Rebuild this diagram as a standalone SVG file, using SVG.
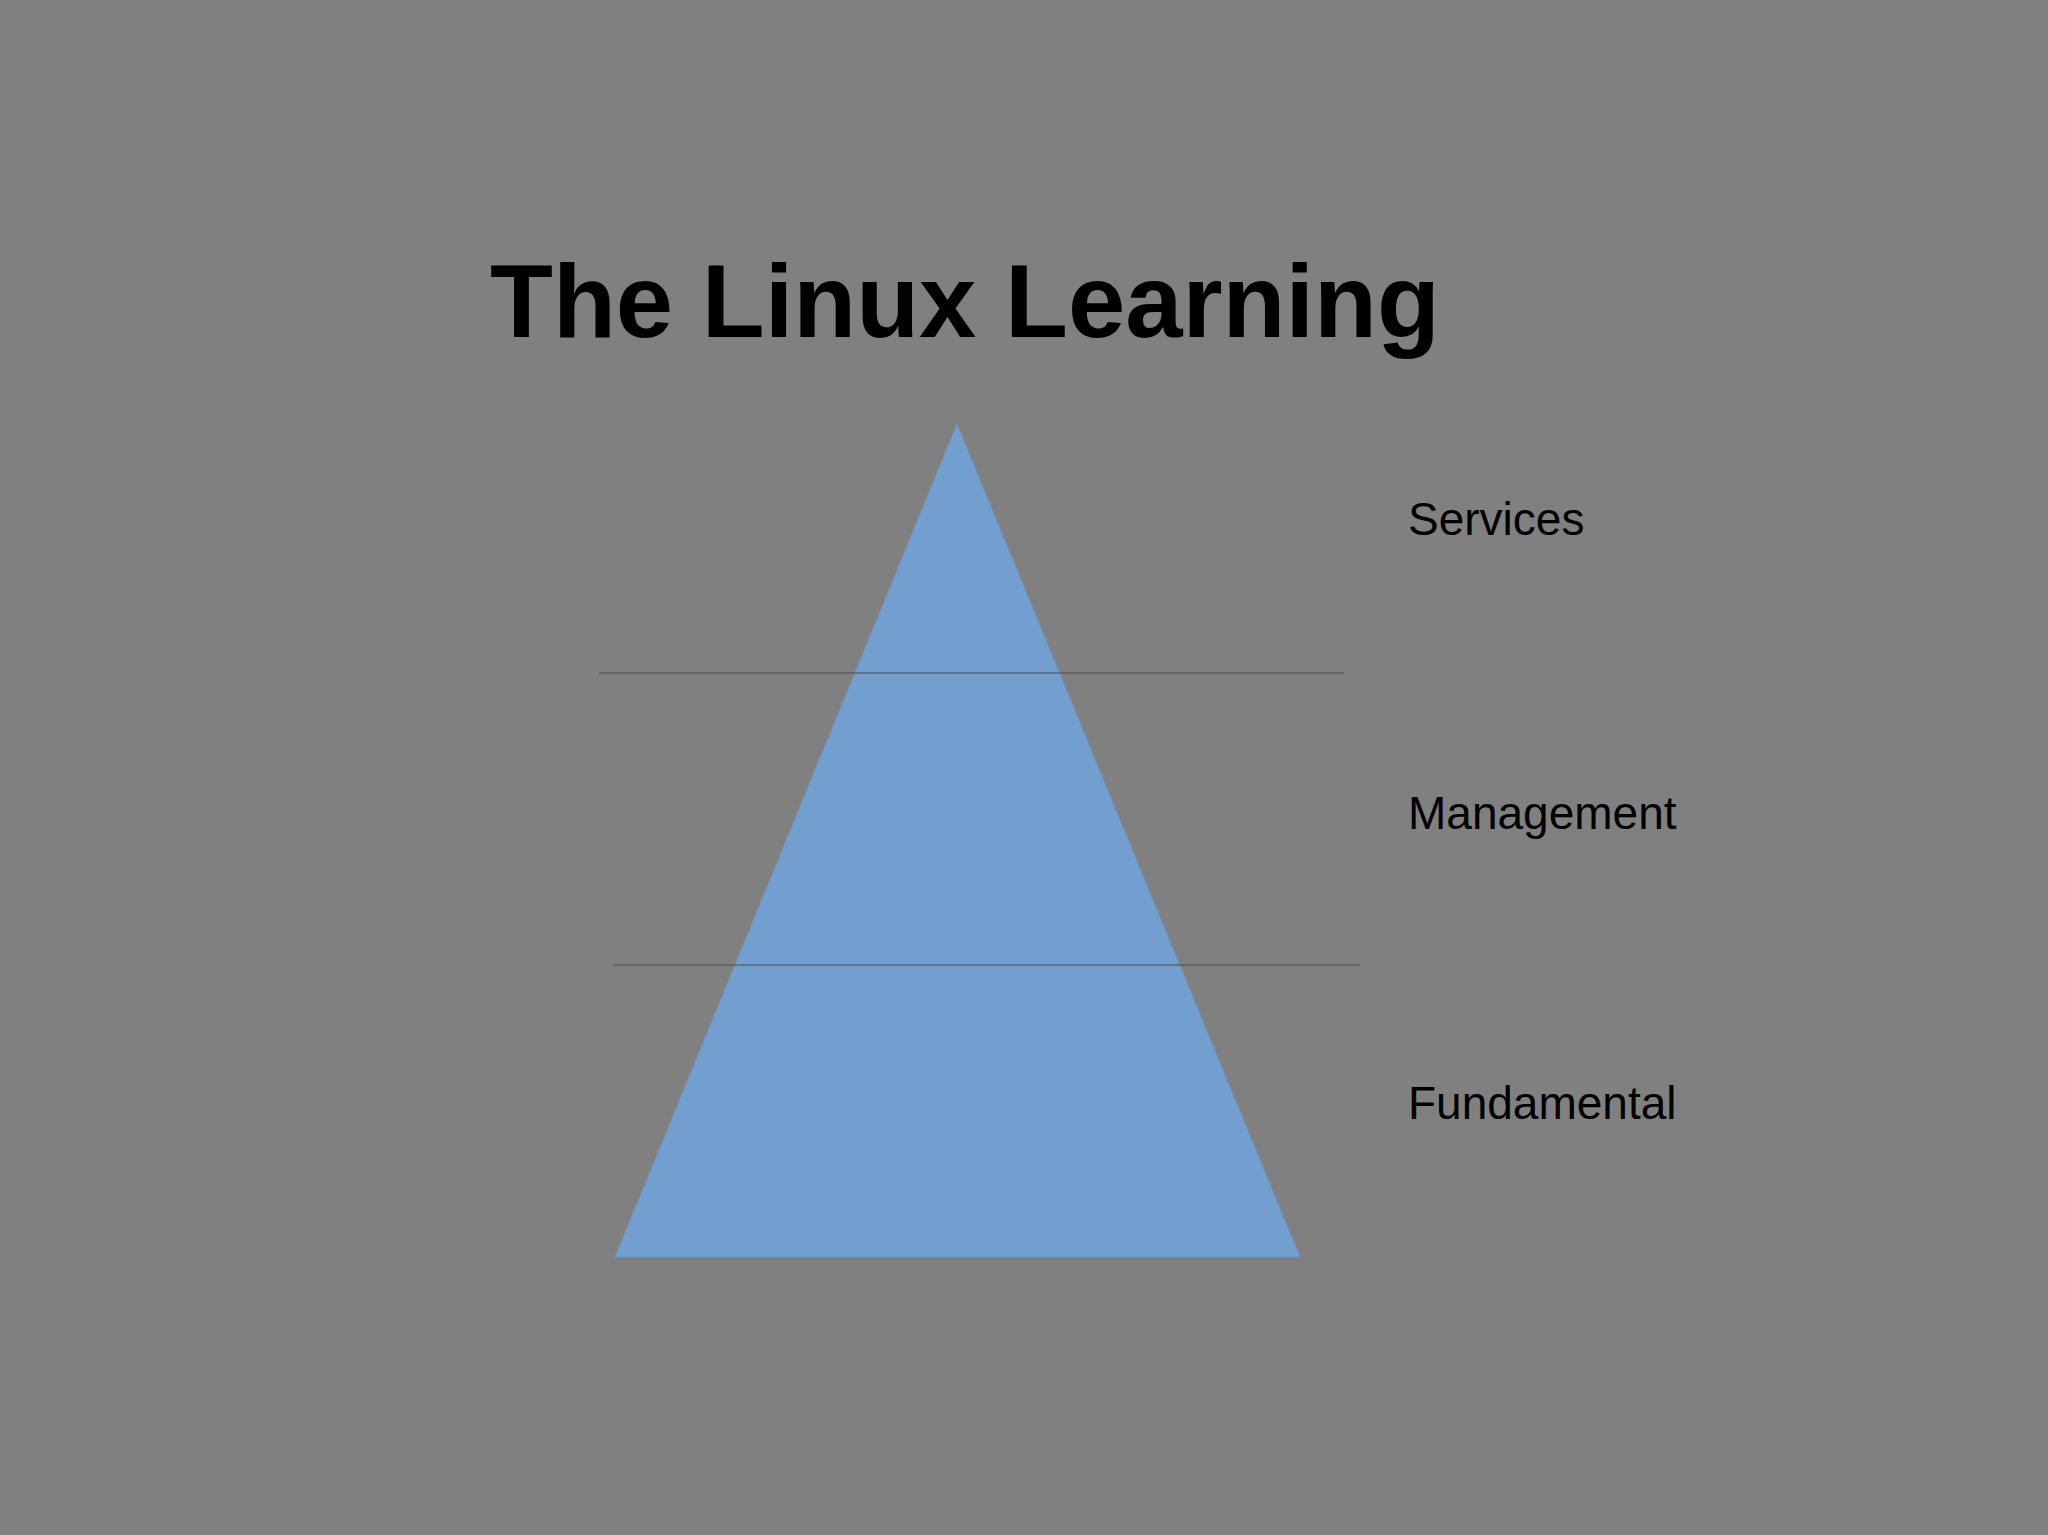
<svg xmlns="http://www.w3.org/2000/svg" width="2048" height="1535" viewBox="0 0 2048 1535">
<style>
.lbl{font-family:"Liberation Sans",Arial,sans-serif;font-size:46px;fill:#000}
.sep{stroke:#4a4a4a;stroke-width:1.2}
</style>
<rect width="2048" height="1535" fill="#808080"/>
<text x="490" y="337" font-family="Liberation Sans,Arial,sans-serif" font-weight="bold" font-size="103" fill="#000">The Linux Learning</text>
<g id="pyramid"><polygon points="957,424 615,1257 1300,1257" fill="#729fcf" stroke="#6a94c4" stroke-width="1"/></g>
<g id="connectors">
<line class="sep" x1="599" y1="673" x2="1344" y2="673"/>
<line class="sep" x1="614" y1="965" x2="1360" y2="965"/>
</g>
<g id="services"><text class="lbl" x="1408" y="535">Services</text></g>
<g id="management"><text class="lbl" x="1408" y="829">Management</text></g>
<g id="fundamental"><text class="lbl" x="1408" y="1119">Fundamental</text></g>
</svg>
